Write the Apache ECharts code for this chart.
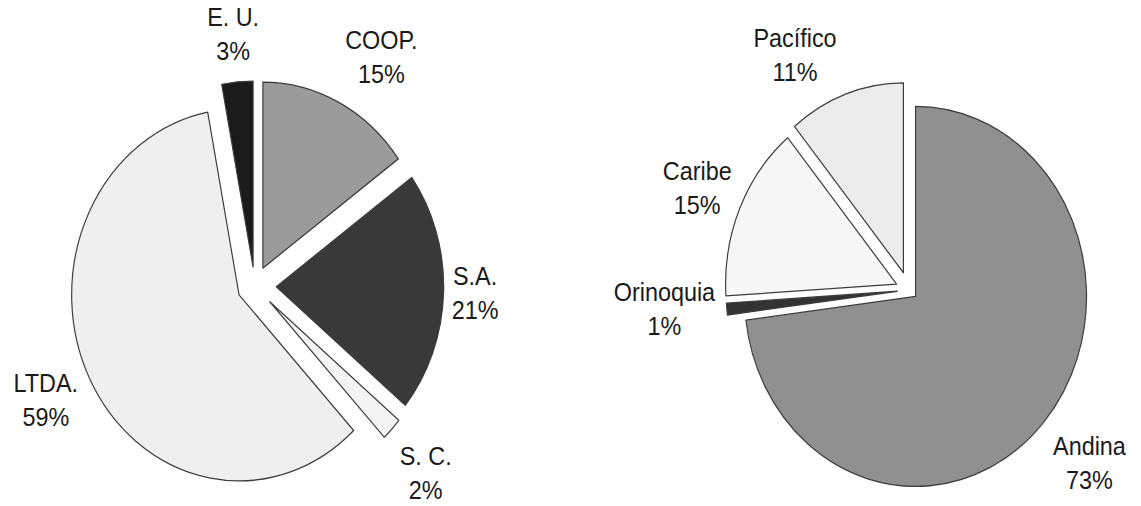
<!DOCTYPE html>
<html>
<head>
<meta charset="utf-8">
<script src="https://cdn.jsdelivr.net/npm/echarts@6/dist/echarts.min.js"></script>
<style>
  html, body { margin: 0; padding: 0; background: #fff; overflow: hidden; }
  /* the drawing is laid out wide and compressed horizontally */
  #chart { width: 1268px; height: 506px; transform: scaleX(0.9); transform-origin: 0 0; }
</style>
</head>
<body>
<div id="chart"></div>
<script>
// Shares by legal form of company (%)
const companyTypes = ['COOP.', 'S.A.', 'S. C.', 'LTDA.', 'E. U.'];
const companyShares = [15, 21, 2, 59, 3];

// Shares by region (%)
const regions = ['Andina', 'Orinoquia', 'Caribe', 'Pacífico'];
const regionShares = [73, 1, 15, 11];

// Styling
const companyColors = ['#9b9b9b', '#393939', '#f4f4f4', '#efefef', '#1b1b1b'];
const regionColors = ['#909090', '#333333', '#f7f7f7', '#ececec'];
const companyExplode = [20, 24, 23, 19.5, 19];
const regionExplode = [9.7, 13.3, 15, 18.3];
// [radial gap, horizontal shift] of each label
const companyLabelGap = [[50.5, -20.9], [4, 0], [63.9, -42.8], [45.6, -32.5], [47.6, -33.7]];
const regionLabelGap = [[62.7, -41.8], [0, 8], [51.9, -43.8], [41.5, -9.2]];

const BORDER = '#3c3c3c';
const TEXT = '#1a1a1a';

// keep the outer edge of each label where the pie puts it, but center its two lines
function centerLines(p) {
  const sign = p.align === 'left' ? 1 : (p.align === 'right' ? -1 : 0);
  return { align: 'center', dx: sign * p.labelRect.width / 2 };
}

// one series per slice, each shifted outward along the slice's middle angle
function explodedPie(names, values, colors, explode, gaps, center, radius) {
  const total = values.reduce((a, b) => a + b, 0);
  let acc = 0;
  return values.map((v, k) => {
    const mid = (acc + v / 2) / total * 2 * Math.PI;
    acc += v;
    const c = [center[0] + explode[k] * Math.sin(mid), center[1] - explode[k] * Math.cos(mid)];
    return {
      type: 'pie',
      radius: radius,
      center: c,
      startAngle: 90,
      clockwise: true,
      avoidLabelOverlap: false,
      silent: true,
      animation: false,
      emphasis: { disabled: true },
      label: {
        position: 'outside',
        formatter: '{b}\n{c}%',
        color: TEXT,
        fontSize: 26,
        lineHeight: 34,
        fontFamily: '"Liberation Sans", Arial, Helvetica, sans-serif',
        distanceToLabelLine: 5
      },
      labelLayout: centerLines,
      data: names.map((n, i) => i === k ? {
        name: n,
        value: values[i],
        itemStyle: { color: colors[i], borderColor: BORDER, borderWidth: 1.3 },
        label: { show: true },
        labelLine: { show: false, length: gaps[i][0], length2: gaps[i][1] }
      } : {
        name: n,
        value: values[i],
        itemStyle: { color: 'transparent', borderWidth: 0 },
        label: { show: false },
        labelLine: { show: false }
      })
    };
  });
}

const chart = echarts.init(document.getElementById('chart'), null, { renderer: 'svg' });
chart.setOption({
  animation: false,
  backgroundColor: '#ffffff',
  series: [
    ...explodedPie(companyTypes, companyShares, companyColors, companyExplode, companyLabelGap, [283, 286], 186),
    ...explodedPie(regions, regionShares, regionColors, regionExplode, regionLabelGap, [1010, 290], 190)
  ]
});
</script>
</body>
</html>
